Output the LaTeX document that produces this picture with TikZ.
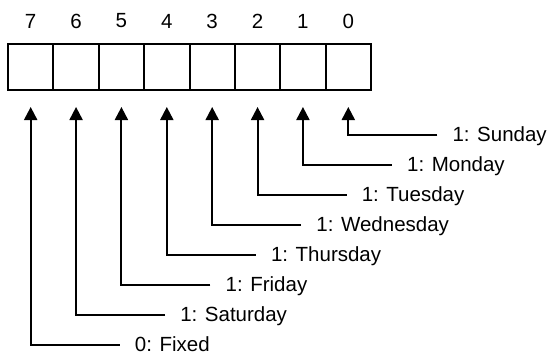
\documentclass[tikz,border=0pt]{standalone}
\usepackage{fontspec}
\setmainfont{Liberation Sans}
\usetikzlibrary{arrows.meta,calc}
\begin{document}
\begin{tikzpicture}[x=1pt,y=1pt,
  cellbox/.style={draw, line width=2pt, minimum width=45.375pt, minimum height=46pt, inner sep=0pt, outer sep=0pt},
  bitnum/.style={font=\fontsize{20.5}{24}\selectfont, inner sep=0pt},
  daylabel/.style={font=\fontsize{20.5}{24}\selectfont, inner sep=0pt, anchor=base west},
  pointer/.style={line width=2pt, -{Triangle[width=13pt,length=13pt]}}
]
\useasboundingbox (0,0) rectangle (553,354);
\foreach \b/\txt in {0/{1: Sunday},1/{1: Monday},2/{1: Tuesday},3/{1: Wednesday},4/{1: Thursday},5/{1: Friday},6/{1: Saturday},7/{0: Fixed}}{
  \pgfmathsetmacro{\cx}{8+45.375*(7-\b+0.5)}
  \pgfmathsetmacro{\ky}{354-(135+30*\b)}
  \node[cellbox] (c\b) at (\cx,287) {};
  \node[bitnum] (n\b) at (\cx,333) {\b};
  \coordinate (k\b) at (\cx,\ky);
  \coordinate (h\b) at (\cx+89,\ky);
  \coordinate (t\b) at ($(c\b.south)+(0,-17)$);
  \node[daylabel] (l\b) at ($(h\b)+(15,-6.3)$) {\txt};
  \draw[pointer] (h\b) -- (k\b) -- (t\b);
}
\end{tikzpicture}
\end{document}
